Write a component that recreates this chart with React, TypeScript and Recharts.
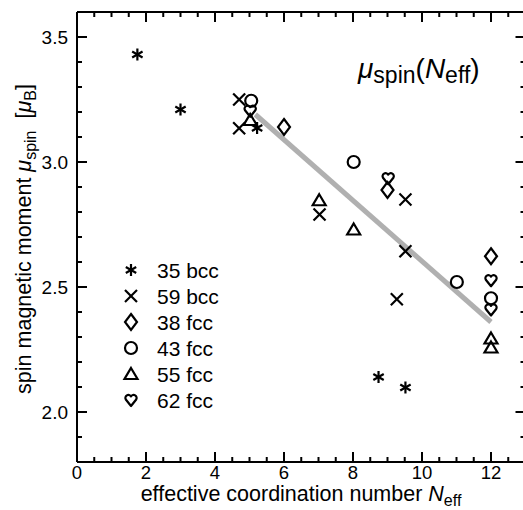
import React from 'react';
import { ScatterChart, Scatter, XAxis, YAxis, ReferenceLine, Customized } from 'recharts';

const FONT = '"Liberation Sans", Arial, Helvetica, sans-serif';

const xTicks = [0, 0.5, 1, 1.5, 2, 2.5, 3, 3.5, 4, 4.5, 5, 5.5, 6, 6.5, 7, 7.5, 8, 8.5, 9, 9.5, 10, 10.5, 11, 11.5, 12, 12.5, 13];
const xTickLabels = ['0', '2', '4', '6', '8', '10', '12'];
const yTicks = [1.8, 1.9, 2.0, 2.1, 2.2, 2.3, 2.4, 2.5, 2.6, 2.7, 2.8, 2.9, 3.0, 3.1, 3.2, 3.3, 3.4, 3.5, 3.6];
const yTickLabels = ['2.0', '2.5', '3.0', '3.5'];

const bcc35 = [
  { x: 1.75, y: 3.43 },
  { x: 3.0, y: 3.21 },
  { x: 5.22, y: 3.136 },
  { x: 8.74, y: 2.14 },
  { x: 9.52, y: 2.098 },
];
const bcc59 = [
  { x: 4.7, y: 3.25 },
  { x: 4.7, y: 3.135 },
  { x: 7.03, y: 2.79 },
  { x: 9.52, y: 2.85 },
  { x: 9.52, y: 2.643 },
  { x: 9.27, y: 2.451 },
];
const fcc38 = [
  { x: 6.0, y: 3.14 },
  { x: 9.0, y: 2.888 },
  { x: 12.0, y: 2.623 },
];
const fcc43 = [
  { x: 5.05, y: 3.245 },
  { x: 8.02, y: 3.0 },
  { x: 11.01, y: 2.52 },
  { x: 12.0, y: 2.455 },
];
const fcc55 = [
  { x: 5.02, y: 3.168 },
  { x: 7.02, y: 2.847 },
  { x: 8.02, y: 2.73 },
  { x: 12.0, y: 2.294 },
  { x: 12.0, y: 2.258 },
];
const fcc62 = [
  { x: 5.02, y: 3.205 },
  { x: 9.02, y: 2.935 },
  { x: 12.0, y: 2.527 },
  { x: 12.0, y: 2.41 },
];
const fitLine = [
  { x: 5.17, y: 3.19 },
  { x: 12.0, y: 2.36 },
];

const legendNames = ['35 bcc', '59 bcc', '38 fcc', '43 fcc', '55 fcc', '62 fcc'];

const SW = 2.2;

const Asterisk = ({ cx, cy }: any) => {
  const r = 6;
  const a = r * Math.cos(Math.PI / 6);
  const b = r * Math.sin(Math.PI / 6);
  return (
    <g stroke="#000" strokeWidth={SW} fill="none">
      <line x1={cx} y1={cy - r} x2={cx} y2={cy + r} />
      <line x1={cx - a} y1={cy - b} x2={cx + a} y2={cy + b} />
      <line x1={cx - a} y1={cy + b} x2={cx + a} y2={cy - b} />
    </g>
  );
};
const Cross = ({ cx, cy }: any) => {
  const r = 6;
  return (
    <g stroke="#000" strokeWidth={SW} fill="none">
      <line x1={cx - r} y1={cy - r} x2={cx + r} y2={cy + r} />
      <line x1={cx - r} y1={cy + r} x2={cx + r} y2={cy - r} />
    </g>
  );
};
const Diamond = ({ cx, cy }: any) => (
  <path
    d={`M${cx},${cy - 8} L${cx + 6},${cy} L${cx},${cy + 8} L${cx - 6},${cy} Z`}
    stroke="#000"
    strokeWidth={SW}
    fill="none"
  />
);
const Circle = ({ cx, cy }: any) => (
  <circle cx={cx} cy={cy} r={6} stroke="#000" strokeWidth={SW} fill="none" />
);
const Triangle = ({ cx, cy }: any) => (
  <path
    d={`M${cx},${cy - 6} L${cx + 6.5},${cy + 5} L${cx - 6.5},${cy + 5} Z`}
    stroke="#000"
    strokeWidth={SW}
    fill="none"
  />
);
const Heart = ({ cx, cy }: any) => (
  <path
    d={`M${cx},${cy + 6} L${cx - 5.2},${cy - 0.5} A3,3 0 1 1 ${cx},${cy - 3.6} A3,3 0 1 1 ${cx + 5.2},${cy - 0.5} Z`}
    stroke="#000"
    strokeWidth={SW}
    fill="none"
    strokeLinejoin="round"
  />
);

const symbols = [Asterisk, Cross, Diamond, Circle, Triangle, Heart];

const isMajorX = (v: number) => Math.abs(v / 2 - Math.round(v / 2)) < 1e-6;
const isMajorY = (v: number) => Math.abs(v * 2 - Math.round(v * 2)) < 1e-6;

const BottomTick = (props: any) => {
  const { x, y, payload } = props;
  const v = payload.value;
  const major = isMajorX(v);
  const idx = Math.round(v / 2);
  return (
    <g>
      <line x1={x} y1={y} x2={x} y2={y - (major ? 10 : 5)} stroke="#000" strokeWidth={2} />
      {major && xTickLabels[idx] !== undefined ? (
        <text x={x} y={y + 17} textAnchor="middle" fontFamily={FONT} fontSize={18.5} fill="#000">
          {xTickLabels[idx]}
        </text>
      ) : null}
    </g>
  );
};
const TopTick = (props: any) => {
  const { x, y, payload } = props;
  const major = isMajorX(payload.value);
  return <line x1={x} y1={y} x2={x} y2={y + (major ? 10 : 5)} stroke="#000" strokeWidth={2} />;
};
const LeftTick = (props: any) => {
  const { x, y, payload } = props;
  const v = payload.value;
  const major = isMajorY(v);
  const label = yTickLabels.find((s) => Math.abs(parseFloat(s) - v) < 1e-6);
  return (
    <g>
      <line x1={x} y1={y} x2={x + (major ? 10 : 5)} y2={y} stroke="#000" strokeWidth={2} />
      {label ? (
        <text x={x - 9} y={y + 7} textAnchor="end" fontFamily={FONT} fontSize={19} fill="#000">
          {label}
        </text>
      ) : null}
    </g>
  );
};
const RightTick = (props: any) => {
  const { x, y, payload } = props;
  const major = isMajorY(payload.value);
  return <line x1={x} y1={y} x2={x - (major ? 10 : 5)} y2={y} stroke="#000" strokeWidth={2} />;
};

const Decorations = () => (
  <g fontFamily={FONT} fill="#000">
    <text x={358} y={78} fontSize={28}>
      <tspan fontStyle="italic">μ</tspan>
      <tspan fontSize={23} dy={5}>spin</tspan>
      <tspan fontSize={28} dy={-5}>(</tspan>
      <tspan fontStyle="italic">N</tspan>
      <tspan fontSize={23} dy={5}>eff</tspan>
      <tspan fontSize={28} dy={-5}>)</tspan>
    </text>
    <text x={301} y={501} fontSize={21.5} textAnchor="middle">
      effective coordination number <tspan fontStyle="italic">N</tspan>
      <tspan fontSize={16} dy={5}>eff</tspan>
    </text>
    <text x={31} y={239} fontSize={21.5} textAnchor="middle" transform="rotate(-90 31 239)">
      spin magnetic moment <tspan fontStyle="italic">μ</tspan>
      <tspan fontSize={16} dy={5}>spin</tspan>
      <tspan dy={-5}>{'\u00a0\u00a0'}[</tspan>
      <tspan fontStyle="italic">μ</tspan>
      <tspan fontSize={16} dy={5}>B</tspan>
      <tspan dy={-5}>]</tspan>
    </text>
    {legendNames.map((name, i) => {
      const Sym = symbols[i];
      const cy = 270 + 26 * i;
      return (
        <g key={name}>
          <Sym cx={131} cy={cy} />
          <text x={157} y={cy + 7.5} fontSize={21}>
            {name}
          </text>
        </g>
      );
    })}
  </g>
);

export default function App() {
  return (
    <div style={{ position: 'absolute', left: 0, top: 0, width: 523, height: 510, overflow: 'hidden', background: '#fff' }}>
      <ScatterChart width={530} height={510} margin={{ top: 0, right: 0, bottom: 0, left: 0 }}>
        <XAxis
          xAxisId="b"
          type="number"
          dataKey="x"
          domain={[0, 13]}
          ticks={xTicks}
          interval={0}
          orientation="bottom"
          height={48}
          axisLine={{ stroke: '#000', strokeWidth: 2 }}
          tickLine={false}
          tickSize={0}
          tickMargin={0}
          tick={<BottomTick />}
          allowDataOverflow
        />
        <XAxis
          xAxisId="t"
          type="number"
          dataKey="x"
          domain={[0, 13]}
          ticks={xTicks}
          interval={0}
          orientation="top"
          height={12}
          axisLine={{ stroke: '#000', strokeWidth: 2 }}
          tickLine={false}
          tickSize={0}
          tickMargin={0}
          tick={<TopTick />}
          allowDataOverflow
        />
        <YAxis
          yAxisId="l"
          type="number"
          dataKey="y"
          domain={[1.8, 3.6]}
          ticks={yTicks}
          interval={0}
          orientation="left"
          width={77}
          axisLine={{ stroke: '#000', strokeWidth: 2 }}
          tickLine={false}
          tickSize={0}
          tickMargin={0}
          tick={<LeftTick />}
          allowDataOverflow
        />
        <YAxis
          yAxisId="r"
          type="number"
          dataKey="y"
          domain={[1.8, 3.6]}
          ticks={yTicks}
          interval={0}
          orientation="right"
          width={4.5}
          axisLine={{ stroke: '#000', strokeWidth: 2 }}
          tickLine={false}
          tickSize={0}
          tickMargin={0}
          tick={<RightTick />}
          allowDataOverflow
        />
        <ReferenceLine
          xAxisId="b"
          yAxisId="l"
          segment={fitLine}
          stroke="#b0b0b0"
          strokeWidth={5}
        />
        <Scatter xAxisId="b" yAxisId="l" data={bcc35} shape={(p: any) => <Asterisk cx={p.cx} cy={p.cy} />} isAnimationActive={false} />
        <Scatter xAxisId="b" yAxisId="l" data={bcc59} shape={(p: any) => <Cross cx={p.cx} cy={p.cy} />} isAnimationActive={false} />
        <Scatter xAxisId="b" yAxisId="l" data={fcc38} shape={(p: any) => <Diamond cx={p.cx} cy={p.cy} />} isAnimationActive={false} />
        <Scatter xAxisId="b" yAxisId="l" data={fcc43} shape={(p: any) => <Circle cx={p.cx} cy={p.cy} />} isAnimationActive={false} />
        <Scatter xAxisId="b" yAxisId="l" data={fcc55} shape={(p: any) => <Triangle cx={p.cx} cy={p.cy} />} isAnimationActive={false} />
        <Scatter xAxisId="b" yAxisId="l" data={fcc62} shape={(p: any) => <Heart cx={p.cx} cy={p.cy} />} isAnimationActive={false} />
        <Customized component={<Decorations />} />
      </ScatterChart>
    </div>
  );
}
